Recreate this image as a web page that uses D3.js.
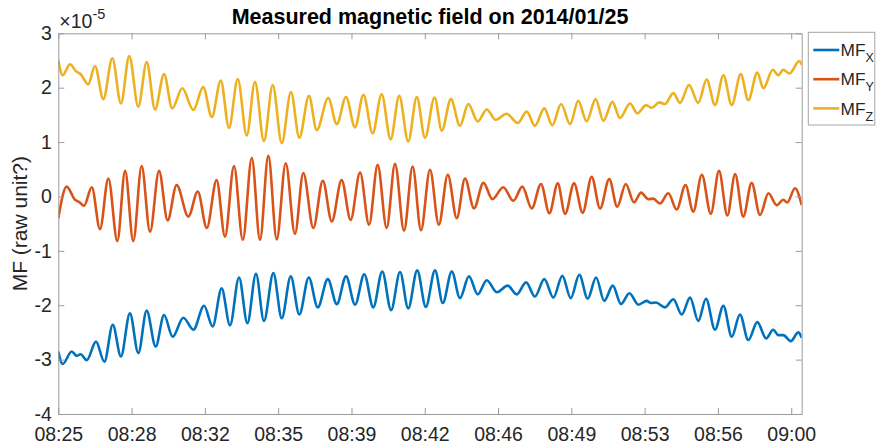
<!DOCTYPE html>
<html>
<head>
<meta charset="utf-8">
<script src="https://d3js.org/d3.v7.min.js"></script>
<style>
  html, body { margin: 0; padding: 0; background: #fff; }
  svg { display: block; font-family: "Liberation Sans", Arial, sans-serif; }
</style>
</head>
<body>
<div id="chart"></div>
<script>
'use strict';

// minutes after 08:25:00, value in units of 1e-5 (peaks / troughs)
var mfX = [[0.00,-2.85],[0.21,-3.08],[0.64,-2.85],[0.88,-2.93],[1.07,-2.90],[1.36,-3.01],[1.80,-2.67],[2.20,-3.04],
  [2.60,-2.36],[2.99,-2.94],[3.42,-2.15],[3.82,-2.88],[4.22,-2.10],[4.65,-2.76],[5.05,-2.18],[5.46,-2.58],
  [5.97,-2.23],[6.45,-2.45],[6.96,-2.01],[7.37,-2.39],[7.80,-1.69],[8.20,-2.37],[8.63,-1.49],[9.03,-2.33],
  [9.44,-1.42],[9.82,-2.29],[10.27,-1.41],[10.67,-2.24],[11.10,-1.47],[11.51,-2.17],[11.96,-1.49],[12.39,-2.04],
  [12.87,-1.52],[13.30,-1.98],[13.74,-1.47],[14.17,-1.99],[14.61,-1.43],[15.04,-2.04],[15.47,-1.38],[15.89,-2.09],
  [16.32,-1.39],[16.71,-2.06],[17.14,-1.36],[17.55,-2.03],[17.99,-1.36],[18.36,-1.96],[18.79,-1.38],[19.18,-1.87],
  [19.61,-1.47],[20.03,-1.80],[20.46,-1.54],[20.94,-1.76],[21.46,-1.64],[21.89,-1.80],[22.34,-1.58],[22.76,-1.84],
  [23.21,-1.52],[23.64,-1.86],[24.07,-1.46],[24.47,-1.87],[24.88,-1.44],[25.28,-1.88],[25.68,-1.49],[26.07,-1.92],
  [26.48,-1.64],[26.87,-1.98],[27.27,-1.78],[27.70,-1.99],[28.10,-1.92],[28.30,-1.96],[28.54,-1.95],[28.97,-2.04],
  [29.37,-1.89],[29.77,-2.17],[30.17,-1.86],[30.56,-2.29],[30.93,-1.88],[31.36,-2.45],[31.76,-2.01],[32.16,-2.58],
  [32.55,-2.17],[32.95,-2.64],[33.38,-2.31],[33.80,-2.61],[34.14,-2.45],[34.38,-2.55],[34.62,-2.55],[34.98,-2.66],
  [35.34,-2.50],[35.50,-2.60]];

var mfY = [[0.00,-0.40],[0.40,0.18],[0.80,-0.06],[0.99,-0.10],[1.23,-0.17],[1.60,0.17],[1.99,-0.60],[2.39,0.33],
  [2.82,-0.82],[3.19,0.47],[3.58,-0.82],[3.98,0.56],[4.38,-0.65],[4.81,0.47],[5.22,-0.44],[5.65,0.21],
  [6.21,-0.37],[6.66,0.09],[7.09,-0.58],[7.56,0.30],[7.96,-0.74],[8.39,0.56],[8.81,-0.80],[9.24,0.71],
  [9.63,-0.80],[10.03,0.75],[10.43,-0.79],[10.86,0.61],[11.30,-0.69],[11.70,0.43],[12.18,-0.58],[12.63,0.29],
  [13.06,-0.46],[13.53,0.30],[13.96,-0.43],[14.41,0.44],[14.84,-0.52],[15.25,0.58],[15.68,-0.58],[16.08,0.60],
  [16.51,-0.63],[16.92,0.55],[17.32,-0.62],[17.75,0.49],[18.17,-0.52],[18.60,0.40],[19.03,-0.40],[19.42,0.33],
  [19.85,-0.22],[20.30,0.25],[20.73,-0.05],[21.25,0.17],[21.73,-0.08],[22.16,0.18],[22.61,-0.22],[23.05,0.23],
  [23.45,-0.31],[23.85,0.24],[24.20,-0.32],[24.63,0.24],[25.04,-0.30],[25.47,0.36],[25.87,-0.22],[26.31,0.32],
  [26.69,-0.19],[27.10,0.23],[27.49,-0.11],[27.83,0.07],[28.18,-0.05],[28.41,-0.04],[28.73,-0.13],[29.13,0.06],
  [29.53,-0.24],[29.95,0.21],[30.32,-0.28],[30.73,0.40],[31.16,-0.32],[31.55,0.47],[31.95,-0.35],[32.32,0.41],
  [32.71,-0.37],[33.11,0.25],[33.51,-0.34],[33.91,0.06],[34.31,-0.16],[34.62,-0.06],[34.81,-0.11],[35.18,0.15],
  [35.50,-0.16]];

var mfZ = [[0.00,2.51],[0.21,2.23],[0.56,2.43],[0.85,2.30],[1.06,2.25],[1.43,2.06],[1.75,2.40],[2.15,1.79],
  [2.58,2.54],[2.99,1.71],[3.39,2.58],[3.82,1.65],[4.22,2.47],[4.62,1.60],[5.05,2.25],[5.44,1.62],
  [5.92,1.99],[6.45,1.59],[6.92,2.01],[7.33,1.46],[7.76,2.13],[8.15,1.26],[8.57,2.16],[9.00,1.12],
  [9.39,2.11],[9.82,1.02],[10.24,2.05],[10.67,0.98],[11.11,1.92],[11.51,1.08],[11.97,1.85],[12.34,1.22],
  [12.89,1.81],[13.30,1.33],[13.74,1.83],[14.17,1.27],[14.57,1.87],[15.01,1.16],[15.44,1.88],[15.87,1.05],
  [16.28,1.85],[16.71,1.01],[17.12,1.83],[17.51,1.08],[17.97,1.82],[18.31,1.21],[18.75,1.79],[19.18,1.30],
  [19.58,1.70],[20.03,1.38],[20.46,1.60],[20.89,1.41],[21.41,1.52],[21.94,1.35],[22.37,1.56],[22.76,1.30],
  [23.21,1.62],[23.59,1.31],[24.01,1.70],[24.44,1.33],[24.83,1.76],[25.23,1.38],[25.66,1.79],[26.03,1.39],
  [26.46,1.74],[26.82,1.44],[27.30,1.71],[27.65,1.53],[28.07,1.68],[28.34,1.63],[28.70,1.73],[28.97,1.70],
  [29.37,1.90],[29.69,1.72],[30.12,2.05],[30.56,1.72],[30.96,2.15],[31.36,1.68],[31.76,2.23],[32.16,1.68],
  [32.59,2.25],[32.95,1.77],[33.38,2.28],[33.67,1.99],[34.12,2.33],[34.38,2.23],[34.62,2.33],[34.91,2.26],
  [35.39,2.49],[35.50,2.42]];

var seriesNames = ["X", "Y", "Z"];
var seriesColors = ["#0072BD", "#D95319", "#EDB120"];
var yTicks = [3, 2, 1, 0, -1, -2, -3, -4];
var tickStepSec = 210;          // 3.5 minutes between time ticks
var tickCount = 11;             // 08:25 ... 09:00

var W = 876, H = 448;
var margin = {left: 58.3, right: 74.3, top: 33.3, bottom: 34};
var start = new Date(2014, 0, 25, 8, 25, 0);
var end = d3.timeSecond.offset(start, 35.5 * 60);

function toDate(m) { return d3.timeMillisecond.offset(start, Math.round(m * 60000)); }

var svg = d3.select("#chart").append("svg").attr("width", W).attr("height", H);

var x = d3.scaleTime().domain([start, end]).range([margin.left, W - margin.right]);
var y = d3.scaleLinear().domain([-4, 3]).range([H - margin.bottom, margin.top]);

var axisColor = "#9a9a9a", textColor = "#262626";
var fontSize = "19.5px";

svg.append("clipPath").attr("id", "plotClip").append("rect")
  .attr("x", margin.left).attr("y", margin.top)
  .attr("width", W - margin.left - margin.right).attr("height", H - margin.top - margin.bottom);

// series
var line = d3.line()
  .x(function(d) { return x(toDate(d[0])); })
  .y(function(d) { return y(d[1]); })
  .curve(d3.curveMonotoneX);

var g = svg.append("g").attr("clip-path", "url(#plotClip)");
[mfX, mfY, mfZ].forEach(function(s, i) {
  g.append("path").datum(s)
    .attr("fill", "none")
    .attr("stroke", seriesColors[i])
    .attr("stroke-width", 2.6)
    .attr("stroke-linejoin", "round")
    .attr("d", line);
});

// axes (ticks inward, box all round)
var tickVals = d3.range(tickCount).map(function(i) { return d3.timeSecond.offset(start, i * tickStepSec); });
var fmt = d3.timeFormat("%H:%M");

function styleAxis(sel, showText) {
  sel.attr("font-family", null).attr("font-size", null);
  sel.select(".domain").attr("stroke", axisColor).attr("stroke-width", 1);
  sel.selectAll(".tick line").attr("stroke", axisColor).attr("stroke-width", 1);
  sel.selectAll(".tick text").attr("fill", textColor).style("font-size", fontSize)
    .style("display", showText ? null : "none");
}

svg.append("g").attr("transform", "translate(0," + (H - margin.bottom) + ")")
  .call(d3.axisBottom(x).tickValues(tickVals).tickFormat(fmt).tickSizeInner(-6).tickSizeOuter(0).tickPadding(13.5))
  .call(styleAxis, true);
svg.append("g").attr("transform", "translate(0," + margin.top + ")")
  .call(d3.axisTop(x).tickValues(tickVals).tickSizeInner(-6).tickSizeOuter(0))
  .call(styleAxis, false);
svg.append("g").attr("transform", "translate(" + margin.left + ",0)")
  .call(d3.axisLeft(y).tickValues(yTicks).tickFormat(function(d) { return String(d); })
    .tickSizeInner(-6).tickSizeOuter(0).tickPadding(6.5))
  .call(styleAxis, true);
svg.append("g").attr("transform", "translate(" + (W - margin.right) + ",0)")
  .call(d3.axisRight(y).tickValues(yTicks).tickSizeInner(-6).tickSizeOuter(0))
  .call(styleAxis, false);

// exponent marker
var ex = svg.append("text").attr("x", margin.left + 1).attr("y", 28)
  .attr("fill", textColor).style("font-size", fontSize);
ex.append("tspan").text("\u00d710");
ex.append("tspan").attr("dy", -9).style("font-size", "14.5px").text("-5");

// title
svg.append("text")
  .attr("x", (margin.left + W - margin.right) / 2).attr("y", 24)
  .attr("text-anchor", "middle").attr("fill", "#000")
  .style("font-size", "21.5px").style("font-weight", "bold")
  .text("Measured magnetic field on 2014/01/25");

// y label
svg.append("text")
  .attr("transform", "translate(27," + ((margin.top + H - margin.bottom) / 2) + ") rotate(-90)")
  .attr("text-anchor", "middle").attr("fill", textColor)
  .style("font-size", "21px")
  .text("MF (raw unit?)");

// legend
var lg = svg.append("g").attr("transform", "translate(808.3,32.3)");
lg.append("rect").attr("width", 66.5).attr("height", 92.7)
  .attr("fill", "#fff").attr("stroke", "#a6a6a6").attr("stroke-width", 1);
seriesNames.forEach(function(n, i) {
  var ry = 17.7 + i * 29.2;
  lg.append("line").attr("x1", 5).attr("x2", 31).attr("y1", ry).attr("y2", ry)
    .attr("stroke", seriesColors[i]).attr("stroke-width", 2.6);
  var t = lg.append("text").attr("x", 32.3).attr("y", ry + 6.3)
    .attr("fill", textColor).style("font-size", "17.3px");
  t.append("tspan").text("MF");
  t.append("tspan").attr("dy", 6).style("font-size", "12.5px").text(n);
});
</script>
</body>
</html>
